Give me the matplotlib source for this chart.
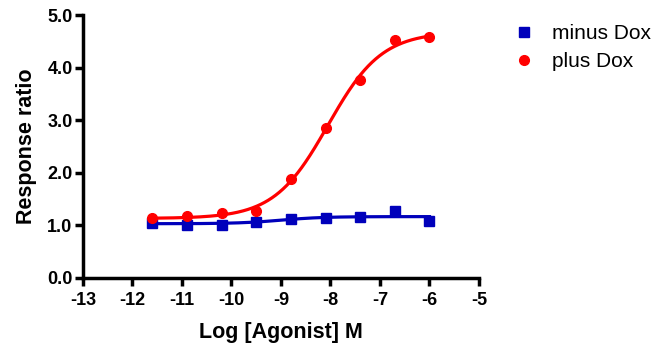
import numpy as np
import matplotlib
matplotlib.use('Agg')
import matplotlib.pyplot as plt
from matplotlib.lines import Line2D

plt.rcParams['font.family'] = ['Liberation Sans', 'DejaVu Sans']

# data
log_agonist = [-11.6, -10.9, -10.2, -9.5, -8.8, -8.1, -7.4, -6.7, -6.0]
minus_dox = [1.05, 1.01, 1.01, 1.07, 1.12, 1.14, 1.16, 1.27, 1.09]
plus_dox = [1.13, 1.17, 1.24, 1.27, 1.88, 2.86, 3.76, 4.53, 4.58]

# sigmoidal dose-response fit parameters (bottom, top, logEC50, hill)
minus_fit = (1.03, 1.165, -9.0, 1.0)
plus_fit = (1.13, 4.68, -8.05, 0.8)

blue = '#0000BB'
red = '#FF0000'


def dose_response(x, bottom, top, logec50, hill):
    return bottom + (top - bottom) / (1 + 10 ** ((logec50 - x) * hill))


fig = plt.figure(figsize=(6.69, 3.43), dpi=100)
ax = fig.add_axes([0.124, 0.19, 0.592, 0.766])

xs = np.linspace(min(log_agonist), max(log_agonist), 300)
ax.plot(xs, dose_response(xs, *minus_fit), color=blue, lw=2.3, zorder=2)
ax.plot(log_agonist, minus_dox, 's', color=blue, ms=6.5, zorder=3)
ax.plot(xs, dose_response(xs, *plus_fit), color=red, lw=2.3, zorder=4)
ax.plot(log_agonist, plus_dox, 'o', color=red, ms=7, zorder=5)

ax.set_xlim(-13, -5)
ax.set_ylim(0, 5)
ax.set_xticks(range(-13, -4))
ax.set_xticklabels([str(i) for i in range(-13, -4)])
ax.set_yticks(np.arange(0, 5.1, 1.0))
ax.set_yticklabels([f'{v:.1f}' for v in np.arange(0, 5.1, 1.0)])

for s in ['top', 'right']:
    ax.spines[s].set_visible(False)
for s in ['left', 'bottom']:
    ax.spines[s].set_linewidth(2.5)
ax.tick_params(direction='out', length=5.5, width=2.5, labelsize=13)
ax.tick_params(axis='x', pad=5)
ax.tick_params(axis='y', pad=2)
for lab in ax.get_xticklabels() + ax.get_yticklabels():
    lab.set_fontweight('bold')

ax.set_xlabel('Log [Agonist] M', fontsize=15.5, fontweight='bold', labelpad=9)
ax.set_ylabel('Response ratio', fontsize=15.5, fontweight='bold', labelpad=7)

handles = [
    Line2D([], [], ls='none', marker='s', color=blue, ms=6.5, label='minus Dox'),
    Line2D([], [], ls='none', marker='o', color=red, ms=7, label='plus Dox'),
]
fig.legend(handles=handles, loc='upper left', bbox_to_anchor=(0.732, 0.985),
           frameon=False, fontsize=15, handletextpad=0.6, labelspacing=0.45,
           handlelength=1.5)

fig.savefig('out.png', dpi=100)
